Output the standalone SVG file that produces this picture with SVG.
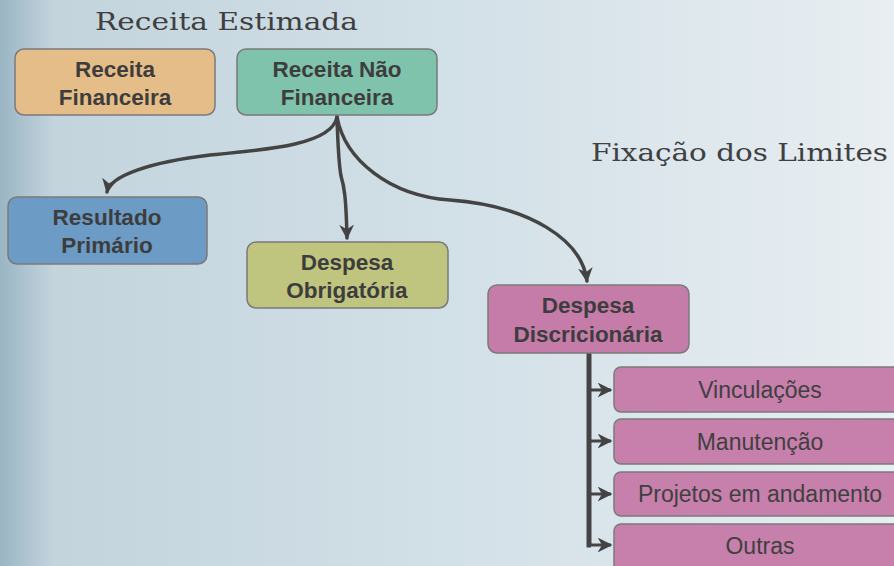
<svg xmlns="http://www.w3.org/2000/svg" width="894" height="566" viewBox="0 0 894 566">
<defs>
<linearGradient id="bg" x1="0" y1="0" x2="1" y2="0">
<stop offset="0" stop-color="#9bb5c4"/>
<stop offset="0.06" stop-color="#c3d4dd"/>
<stop offset="0.5" stop-color="#d2e0e7"/>
<stop offset="1" stop-color="#e8eef2"/>
</linearGradient>
<marker id="ah" viewBox="0 0 10 10" refX="9" refY="5" markerWidth="4.2" markerHeight="4.2" orient="auto" markerUnits="strokeWidth">
<path d="M0,0 L10,5 L0,10 L3,5 Z" fill="#434343"/>
</marker>
<marker id="ah2" viewBox="0 0 10 10" refX="9" refY="5" markerWidth="5" markerHeight="5" orient="auto" markerUnits="strokeWidth">
<path d="M0,0 L10,5 L0,10 L3,5 Z" fill="#434343"/>
</marker>
</defs>
<style>
.box{stroke:#7a7a7a;stroke-width:1.5}
.lbl{font-family:"Liberation Sans",Arial,sans-serif;font-weight:bold;font-size:22.5px;fill:#3d3d3d;text-anchor:middle}
.sub{font-family:"Liberation Sans",Arial,sans-serif;font-size:23px;fill:#404040;text-anchor:middle}
.title{font-family:"DejaVu Serif","Liberation Serif",serif;font-size:25px;fill:#404040}
.con{fill:none;stroke:#444;stroke-width:3.5;stroke-linecap:round}
.br{fill:none;stroke:#444;stroke-width:3}
</style>
<rect width="894" height="566" fill="url(#bg)"/>
<text class="title" x="95" y="30" textLength="263" lengthAdjust="spacingAndGlyphs">Receita Estimada</text>
<text class="title" x="591" y="161" textLength="297" lengthAdjust="spacingAndGlyphs">Fixação dos Limites</text>
<g id="connectors">
<path class="con" d="M337,117 C332,145 265,150 210,155 C150,162 110,176 107,192" marker-end="url(#ah)"/>
<path class="con" d="M337,117 C338,150 339,165 341,176 C344,186 346,195 347,238" marker-end="url(#ah)"/>
<path class="con" d="M337,117 C345,160 390,196 450,200 C530,206 582,240 587,281" marker-end="url(#ah)"/>
<path fill="none" stroke="#444" stroke-width="5" d="M589,353 L589,545 L591,545"/>
<path class="br" d="M589,390 L611,390" marker-end="url(#ah2)"/>
<path class="br" d="M589,441 L611,441" marker-end="url(#ah2)"/>
<path class="br" d="M589,494 L611,494" marker-end="url(#ah2)"/>
<path class="br" d="M589,545 L611,545" marker-end="url(#ah2)"/>
</g>
<g id="receita-financeira">
<rect class="box" x="15" y="49" width="200" height="66" rx="9" fill="#e5bd89"/>
<text class="lbl" x="115" y="77">Receita</text>
<text class="lbl" x="115" y="105">Financeira</text>
</g>
<g id="receita-nao-financeira">
<rect class="box" x="237" y="49" width="200" height="66" rx="9" fill="#7fc3ac"/>
<text class="lbl" x="337" y="77">Receita Não</text>
<text class="lbl" x="337" y="105">Financeira</text>
</g>
<g id="resultado-primario">
<rect class="box" x="8" y="197" width="199" height="67" rx="9" fill="#6c9bc5"/>
<text class="lbl" x="107" y="225">Resultado</text>
<text class="lbl" x="107" y="253">Primário</text>
</g>
<g id="despesa-obrigatoria">
<rect class="box" x="247" y="242" width="201" height="66" rx="9" fill="#bfc47f"/>
<text class="lbl" x="347" y="270">Despesa</text>
<text class="lbl" x="347" y="298">Obrigatória</text>
</g>
<g id="despesa-discricionaria">
<rect class="box" x="488" y="285" width="201" height="68" rx="9" fill="#c57ca9"/>
<text class="lbl" x="588" y="313">Despesa</text>
<text class="lbl" x="588" y="342">Discricionária</text>
</g>
<g id="vinculacoes">
<rect class="box" x="614" y="367" width="292" height="45" rx="7" fill="#c77fab"/>
<text class="sub" x="760" y="398">Vinculações</text>
</g>
<g id="manutencao">
<rect class="box" x="614" y="419" width="292" height="45" rx="7" fill="#c77fab"/>
<text class="sub" x="760" y="450">Manutenção</text>
</g>
<g id="projetos">
<rect class="box" x="614" y="472" width="292" height="44" rx="7" fill="#c77fab"/>
<text class="sub" x="760" y="502">Projetos em andamento</text>
</g>
<g id="outras">
<rect class="box" x="614" y="524" width="292" height="50" rx="7" fill="#c77fab"/>
<text class="sub" x="760" y="554">Outras</text>
</g>
</svg>
